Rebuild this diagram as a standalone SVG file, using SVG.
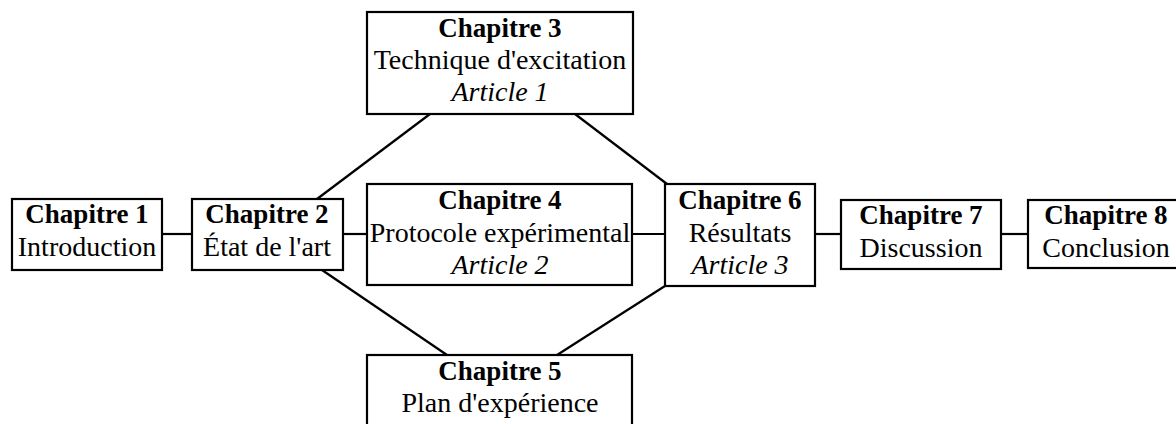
<svg xmlns="http://www.w3.org/2000/svg" width="1176" height="424" viewBox="0 0 1176 424">
<style>
.box{fill:#fff;stroke:#000;stroke-width:2.2}
.t{font-family:"Liberation Serif","Times New Roman",serif;font-size:28px;fill:#000;text-anchor:middle}
.b{font-weight:bold;font-size:27px}
.i{font-style:italic}
.c line{stroke:#000;stroke-width:2.2}
</style>
<rect width="1176" height="424" fill="#fff"/>
<g class="c" id="connectors">
<line x1="162" y1="234" x2="192" y2="234"/>
<line x1="343" y1="234" x2="367" y2="234"/>
<line x1="632" y1="234" x2="665" y2="234"/>
<line x1="815" y1="234" x2="841" y2="234"/>
<line x1="1001" y1="234" x2="1028" y2="234"/>
<line x1="317" y1="199" x2="430" y2="114"/>
<line x1="575" y1="114" x2="667" y2="184"/>
<line x1="322" y1="270" x2="447" y2="355"/>
<line x1="557" y1="355" x2="665" y2="286"/>
</g>
<g id="ch1">
<rect class="box" x="12" y="199" width="150" height="71"/>
<text class="t b" x="87" y="223">Chapitre 1</text>
<text class="t" x="87" y="256">Introduction</text>
</g>
<g id="ch2">
<rect class="box" x="192" y="199" width="151" height="71"/>
<text class="t b" x="267" y="223">Chapitre 2</text>
<text class="t" x="267" y="256">État de l'art</text>
</g>
<g id="ch3">
<rect class="box" x="367" y="12" width="266" height="102"/>
<text class="t b" x="500" y="37">Chapitre 3</text>
<text class="t" x="500" y="69">Technique d'excitation</text>
<text class="t i" x="500" y="101">Article 1</text>
</g>
<g id="ch4">
<rect class="box" x="367" y="184" width="265" height="101"/>
<text class="t b" x="500" y="209">Chapitre 4</text>
<text class="t" x="500" y="242">Protocole expérimental</text>
<text class="t i" x="500" y="274">Article 2</text>
</g>
<g id="ch5">
<rect class="box" x="367" y="355" width="265" height="80"/>
<text class="t b" x="500" y="380">Chapitre 5</text>
<text class="t" x="500" y="412">Plan d'expérience</text>
</g>
<g id="ch6">
<rect class="box" x="665" y="184" width="150" height="102"/>
<text class="t b" x="740" y="209">Chapitre 6</text>
<text class="t" x="740" y="242">Résultats</text>
<text class="t i" x="740" y="274">Article 3</text>
</g>
<g id="ch7">
<rect class="box" x="841" y="200" width="160" height="69"/>
<text class="t b" x="921" y="224">Chapitre 7</text>
<text class="t" x="921" y="257">Discussion</text>
</g>
<g id="ch8">
<rect class="box" x="1028" y="200" width="160" height="68"/>
<text class="t b" x="1106" y="224">Chapitre 8</text>
<text class="t" x="1106" y="257">Conclusion</text>
</g>
</svg>
